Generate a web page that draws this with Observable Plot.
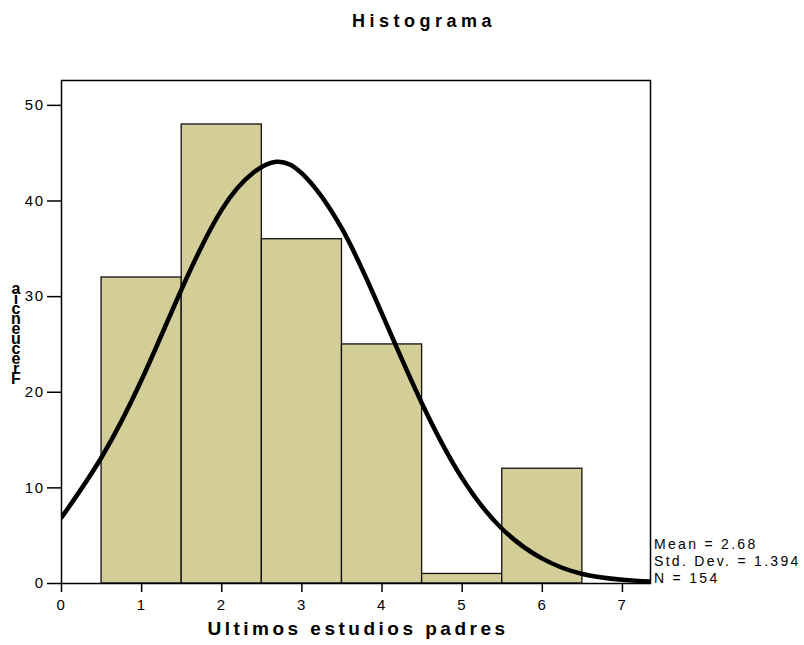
<!DOCTYPE html>
<html>
<head>
<meta charset="utf-8">
<script src="https://cdn.jsdelivr.net/npm/d3@7"></script>
<script src="https://cdn.jsdelivr.net/npm/@observablehq/plot@0.6"></script>
<style>
body { margin: 0; background: #fff; }
svg { font-family: "Liberation Sans", Arial, sans-serif; }
</style>
</head>
<body>
<div id="chart"></div>
<script>
// Histogram bins (lower edge, upper edge) and counts
const binStart = [0.5, 1.5, 2.5, 3.5, 4.5, 5.5];
const binEnd   = [1.5, 2.5, 3.5, 4.5, 5.5, 6.5];
const counts   = [32, 48, 36, 25, 1, 12];

// Normal curve
const curveX = [0, 0.5, 1, 1.5, 2, 2.4, 2.68, 3, 3.5, 4, 4.5, 5, 5.5, 6, 6.5, 7, 7.35];
const curveY = [6.9, 13.2, 21.3, 30.8, 39.1, 43.0, 44.1, 42.9, 37.1, 28.2, 18.8, 11.0, 5.7, 2.6, 1.0, 0.4, 0.2];

const xTicks = [0, 1, 2, 3, 4, 5, 6, 7];
const yTicks = [0, 10, 20, 30, 40, 50];

const title = "Histograma";
const xLabel = "Ultimos estudios padres";
const yLabel = "Frecuencia";
const stats = ["Mean = 2.68", "Std. Dev. = 1.394", "N = 154"];

const bins = binStart.map((s, i) => ({x1: s, x2: binEnd[i], y: counts[i]}));
const curve = curveX.map((x, i) => ({x, y: curveY[i]}));

const W = 804, H = 645;
const mL = 61, mT = 80, mR = 154, mB = 62;

const plot = Plot.plot({
  width: W,
  height: H,
  marginLeft: mL,
  marginTop: mT,
  marginRight: mR,
  marginBottom: mB,
  style: {fontFamily: "Liberation Sans, Arial, sans-serif", fontSize: "14px", color: "#000", background: "#fff"},
  x: {domain: [0, 7.35], label: null},
  y: {domain: [0, 52.6], label: null},
  marks: [
    Plot.rectY(bins, {x1: "x1", x2: "x2", y: "y", fill: "#d3ce98", stroke: "#111", strokeWidth: 1.3}),
    Plot.line(curve, {x: "x", y: "y", curve: "natural", stroke: "#000", strokeWidth: 4.5, clip: true}),
    Plot.frame({stroke: "#000", strokeWidth: 1.5}),
    Plot.axisX({ticks: xTicks, tickSize: 9, tickPadding: 7, fontSize: 15, stroke: "#000", strokeWidth: 1.5, tickFormat: d => String(d), label: null}),
    Plot.axisY({ticks: yTicks, tickSize: 14, tickPadding: 3, fontSize: 15, stroke: "#000", strokeWidth: 1.5, label: null})
  ]
});

document.getElementById("chart").appendChild(plot);
const svg = d3.select(plot);
svg.selectAll("text").style("letter-spacing", "1.5px").style("font-size", "15px");

// Title
svg.append("text")
  .attr("x", 424).attr("y", 27)
  .attr("text-anchor", "middle")
  .style("font-weight", "bold").style("font-size", "18px").style("letter-spacing", "4.5px")
  .text(title);

// X label
svg.append("text")
  .attr("x", 358).attr("y", 635)
  .attr("text-anchor", "middle")
  .style("font-weight", "bold").style("font-size", "19px").style("letter-spacing", "3.5px")
  .text(xLabel);

// Y label: letters stacked upright from the bottom up, as in the source
svg.append("text")
  .attr("x", 16).attr("y", 330)
  .attr("text-anchor", "middle")
  .style("writing-mode", "vertical-rl")
  .style("text-orientation", "upright")
  .style("letter-spacing", "-7px")
  .style("font-weight", "bold").style("font-size", "16px")
  .text(yLabel.split("").reverse().join(""));

// Stats
stats.forEach((s, i) => {
  svg.append("text")
    .attr("x", 654).attr("y", 549 + i * 17)
    .attr("text-anchor", "start")
    .style("font-size", "14px").style("letter-spacing", "2.3px")
    .text(s);
});
</script>
</body>
</html>
